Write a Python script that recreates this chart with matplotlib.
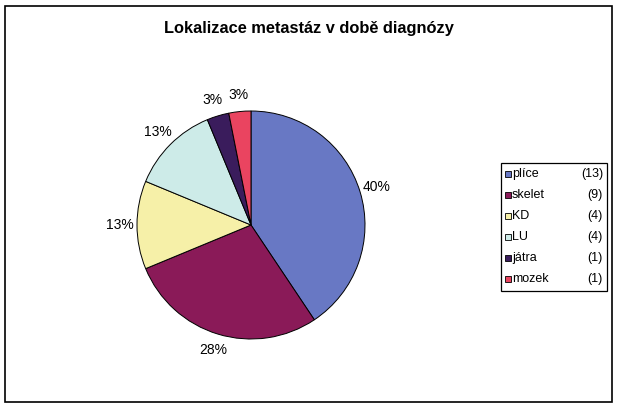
import matplotlib
matplotlib.use('Agg')
import matplotlib.pyplot as plt
from matplotlib.patches import Rectangle
import numpy as np

plt.rcParams['font.family'] = ['Liberation Sans', 'DejaVu Sans']

# data
categories = ['plíce', 'skelet', 'KD', 'LU', 'játra', 'mozek']
counts = [13, 9, 4, 4, 1, 1]
pct_labels = ['40%', '28%', '13%', '13%', '3%', '3%']
colors = ['#6878C4', '#8A1A58', '#F6F0A8', '#CDEBE8', '#3A1C5C', '#EA4460']

W, H = 619, 408
fig = plt.figure(figsize=(W / 100, H / 100), dpi=100)

# outer frame
fig.patches.append(Rectangle((5 / W, 6 / H), 607 / W, 396 / H, transform=fig.transFigure,
                             fill=False, edgecolor='black', linewidth=1.2))

fig.text(309 / W, 1 - 28 / H, 'Lokalizace metastáz v době diagnózy',
         ha='center', va='center', fontsize=11.8, fontweight='bold')

# pie: center (251, 225), radius ~114 px
r = 114
cx, cy = 251, H - 225
ax = fig.add_axes([(cx - 1.5 * r) / W, (cy - 1.5 * r) / H, 3 * r / W, 3 * r / H])
wedges, _ = ax.pie(counts, colors=colors, startangle=90, counterclock=False,
                   wedgeprops={'edgecolor': 'black', 'linewidth': 0.7})
ax.set_xlim(-1.5, 1.5)
ax.set_ylim(-1.5, 1.5)
ax.set_aspect('equal')
ax.axis('off')

# percentage labels just outside each slice
total = sum(counts)
ang = 90.0
for w, lab in zip(counts, pct_labels):
    span = 360.0 * w / total
    mid = np.deg2rad(ang - span / 2)
    ang -= span
    d = 1.15
    ax.text(d * np.cos(mid), d * np.sin(mid), lab, ha='center', va='center', fontsize=10)

# legend box
lx0, ly0, lx1, ly1 = 501, 163, 607, 291
fig.patches.append(Rectangle((lx0 / W, 1 - ly1 / H), (lx1 - lx0) / W, (ly1 - ly0) / H,
                             transform=fig.transFigure, fill=False, edgecolor='black',
                             linewidth=0.9))
for i, (cat, n, c) in enumerate(zip(categories, counts, colors)):
    y = 174 + i * 21
    fig.patches.append(Rectangle((505 / W, 1 - (y + 3) / H), 6 / W, 6 / H,
                                 transform=fig.transFigure, facecolor=c,
                                 edgecolor='black', linewidth=0.6))
    fig.text(512 / W, 1 - y / H, cat, ha='left', va='center', fontsize=9)
    fig.text(603 / W, 1 - y / H, f'({n})', ha='right', va='center', fontsize=9)

fig.savefig('out.png', dpi=100)
